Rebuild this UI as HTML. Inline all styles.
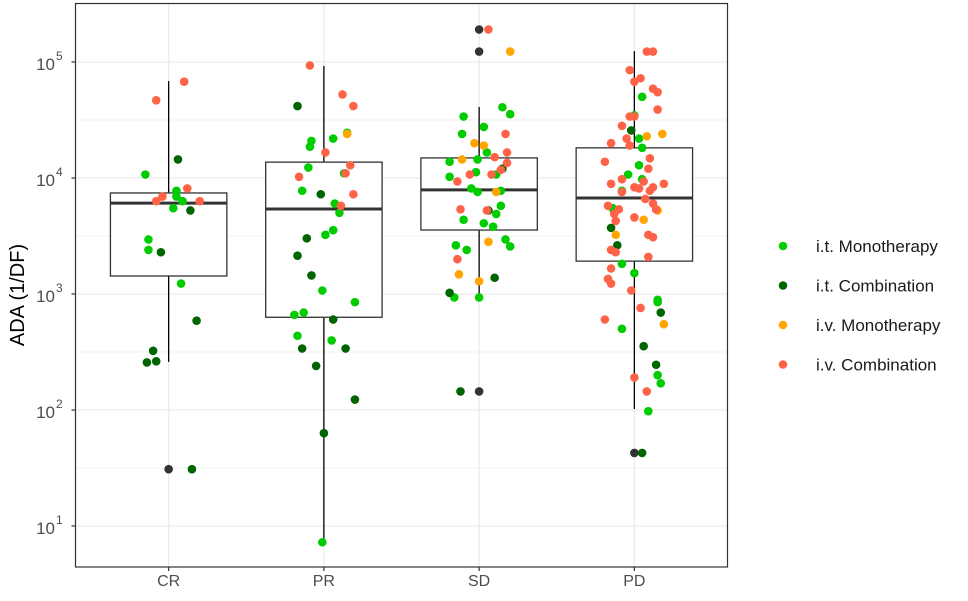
<!DOCTYPE html>
<html><head><meta charset="utf-8"><style>
html,body{margin:0;padding:0;background:#fff;}
svg{display:block;font-family:"Liberation Sans",Arial,sans-serif;}
</style></head><body>
<svg id="chart" width="968" height="601" viewBox="0 0 968 601" xmlns="http://www.w3.org/2000/svg">
<rect x="0" y="0" width="968" height="601" fill="#fff"/>
<g id="grid"></g>
<g id="boxes"></g>
<g id="points"></g>
<rect x="75.5" y="3.5" width="652" height="563.5" fill="none" stroke="#333" stroke-width="1.2"/>
<g id="axes"></g>
<text transform="translate(24,295) rotate(-90)" text-anchor="middle" font-size="20" fill="#000">ADA (1/DF)</text>
<g id="legend"></g>
</svg>
<script>
const categories = ["CR","PR","SD","PD"];
const yTickExps = [1,2,3,4,5];
// box stats: [lowerWhisker, Q1, median, Q3, upperWhisker]
const boxCR = [260, 1430, 6080, 7430, 68500];
const boxPR = [7.3, 630, 5400, 13700, 92500];
const boxSD = [925, 3560, 7900, 14900, 41000];
const boxPD = [102, 1920, 6730, 18200, 124000];
const boxStats = [boxCR, boxPR, boxSD, boxPD];
// outliers: [categoryIndex, log10 value]
const outliers = [[0,1.49],[2,5.28],[2,5.09],[2,2.16],[3,1.63]];
const groupNames = ["i.t. Monotherapy","i.t. Combination","i.v. Monotherapy","i.v. Combination"];
const groupColors = ["#00CC00","#006400","#FFA500","#FF6347"];
// points: [categoryIndex, jitter (category units), log10 ADA]
const itMono = [
[0,-.15,4.03],[0,.05,3.89],[0,.05,3.84],[0,.09,3.80],[0,.03,3.74],[0,-.13,3.47],[0,-.13,3.38],[0,.08,3.09],
[1,.15,4.39],[1,-.08,4.32],[1,-.09,4.27],[1,.06,4.34],[1,.13,4.04],[1,-.10,4.09],[1,-.14,3.89],[1,.07,3.78],[1,.10,3.70],[1,.06,3.55],[1,.01,3.51],[1,-.01,3.03],[1,.20,2.93],[1,-.19,2.82],[1,-.13,2.84],[1,-.17,2.64],[1,.05,2.60],[1,-.01,0.86],
[2,.15,4.61],[2,.20,4.55],[2,-.10,4.53],[2,.03,4.44],[2,-.11,4.38],[2,.05,4.22],[2,-.19,4.14],[2,-.01,4.16],[2,-.02,4.05],[2,.11,4.03],[2,-.19,4.01],[2,-.05,3.91],[2,-.01,3.88],[2,.14,3.89],[2,.14,3.76],[2,.11,3.69],[2,-.10,3.64],[2,.03,3.61],[2,.09,3.58],[2,.17,3.47],[2,.20,3.41],[2,-.15,3.42],[2,-.08,3.38],[2,-.16,2.97],[2,0,2.97],
[3,.05,4.70],[3,0,4.54],[3,.03,4.34],[3,.05,4.26],[3,.03,4.11],[3,-.04,4.03],[3,.05,3.99],[3,-.08,3.89],[3,-.14,3.74],[3,-.08,3.26],[3,0,3.18],[3,.15,2.95],[3,.15,2.93],[3,-.08,2.70],[3,.15,2.30],[3,.17,2.23],[3,.09,1.99]
];
const itComb = [
[0,.06,4.16],[0,.14,3.72],[0,-.05,3.36],[0,.18,2.77],[0,-.10,2.51],[0,-.14,2.41],[0,-.08,2.42],[0,.15,1.49],
[1,-.17,4.62],[1,-.02,3.86],[1,-.11,3.48],[1,-.17,3.33],[1,-.08,3.16],[1,.06,2.78],[1,-.14,2.53],[1,.14,2.53],[1,-.05,2.38],[1,.20,2.09],[1,0,1.80],
[2,.15,4.08],[2,.06,3.72],[2,.10,3.14],[2,-.19,3.01],[2,-.12,2.16],
[3,-.02,4.41],[3,-.15,3.57],[3,-.11,3.42],[3,.17,2.84],[3,.06,2.55],[3,.14,2.39],[3,.05,1.63]
];
const ivMono = [
[1,.15,4.38],
[2,.20,5.09],[2,-.03,4.30],[2,.03,4.28],[2,-.11,4.16],[2,.11,3.88],[2,.06,3.45],[2,-.13,3.17],[2,0,3.11],
[3,.08,4.36],[3,.18,4.38],[3,.15,3.72],[3,.06,3.64],[3,-.12,3.51],[3,.19,2.74]
];
const ivComb = [
[0,.10,4.83],[0,-.08,4.67],[0,.12,3.91],[0,-.04,3.84],[0,-.08,3.80],[0,.20,3.80],
[1,-.09,4.97],[1,.12,4.72],[1,.19,4.62],[1,.01,4.22],[1,.17,4.11],[1,.14,4.04],[1,-.16,4.01],[1,.19,3.86],[1,.11,3.76],
[2,.06,5.28],[2,.17,4.38],[2,.18,4.22],[2,.10,4.18],[2,.18,4.13],[2,.14,4.07],[2,-.06,4.03],[2,.08,4.03],[2,-.14,3.97],[2,-.12,3.73],[2,.05,3.72],[2,-.14,3.30],
[3,.08,5.09],[3,.12,5.09],[3,-.03,4.93],[3,0,4.83],[3,.04,4.86],[3,.12,4.77],[3,.15,4.74],[3,.15,4.59],[3,-.03,4.53],[3,0,4.53],[3,-.08,4.45],[3,-.05,4.34],[3,-.15,4.30],[3,-.03,4.28],[3,.10,4.17],[3,-.19,4.14],[3,.09,4.08],[3,-.08,3.99],[3,-.15,3.95],[3,.06,3.97],[3,0,3.92],[3,.03,3.91],[3,.12,3.92],[3,.19,3.95],[3,.10,3.89],[3,-.08,3.88],[3,.07,3.82],[3,.12,3.78],[3,-.17,3.76],[3,-.10,3.73],[3,.14,3.73],[3,-.13,3.69],[3,-.12,3.63],[3,0,3.66],[3,.09,3.51],[3,.12,3.49],[3,-.15,3.38],[3,-.12,3.36],[3,.09,3.32],[3,-.15,3.22],[3,-.17,3.13],[3,-.15,3.09],[3,-.02,3.03],[3,.04,2.88],[3,-.19,2.78],[3,0,2.28],[3,.08,2.16]
];
const groups = [itMono, itComb, ivMono, ivComb];

const NS = "http://www.w3.org/2000/svg";
const PL = 75.5, PR = 727.5, PT = 3.5, PB = 567;
const band = (PR - PL) / (categories.length + 0.2);
function xScale(i){ return PL + band*0.6 + i*band; }
function yLog(L){ return 526 - 116*(L - 1); }
function yScale(v){ return yLog(Math.log10(v)); }
function mk(tag, attrs, parent){
  const e = document.createElementNS(NS, tag);
  for (const k in attrs) e.setAttribute(k, attrs[k]);
  parent.appendChild(e); return e;
}
const grid = document.getElementById('grid');
const axes = document.getElementById('axes');
// grid
for (let L = 0.5; L <= 5.5; L += 0.5) {
  const y = yLog(L);
  if (y < PT || y > PB) continue;
  const g = mk('line', {x1:PL, x2:PR, y1:y, y2:y, stroke:'#ebebeb', 'stroke-width': (L%1===0)?1.3:0.8}, grid);
  
  
}
categories.forEach((c,i)=>{
  const x = xScale(i);
  const g = mk('line', {x1:x, x2:x, y1:PT, y2:PB, stroke:'#ebebeb', 'stroke-width':1.3}, grid);
  
  
  const t = mk('line', {x1:x, x2:x, y1:PB, y2:PB+4, stroke:'#333', 'stroke-width':1.2}, axes);
  
  
  const lab = mk('text', {x:x, y:PB+19, 'text-anchor':'middle', 'font-size':16, fill:'#4d4d4d'}, axes);
  lab.textContent = c;
  
  
});
yTickExps.forEach(e=>{
  const y = yLog(e);
  const t = mk('line', {x1:PL-4, x2:PL, y1:y, y2:y, stroke:'#333', 'stroke-width':1.2}, axes);
  
  
  const lab = mk('text', {x:55, y:y+8, 'text-anchor':'end', 'font-size':17, fill:'#4d4d4d'}, axes);
  lab.textContent = '10';
  
  
  const sup = mk('text', {x:56, y:y-2, 'text-anchor':'start', 'font-size':12, fill:'#4d4d4d'}, axes);
  sup.textContent = String(e);
  
  
});
// boxes
const boxes = document.getElementById('boxes');
const hw = band*0.375;
boxStats.forEach((s,i)=>{
  const x = xScale(i);
  const g = mk('g', {}, boxes);
  
  
  mk('line', {x1:x,x2:x,y1:yScale(s[0]),y2:yScale(s[1]),stroke:'#000','stroke-width':1.3}, g);
  mk('line', {x1:x,x2:x,y1:yScale(s[3]),y2:yScale(s[4]),stroke:'#000','stroke-width':1.3}, g);
  mk('rect', {x:x-hw,y:yScale(s[3]),width:2*hw,height:yScale(s[1])-yScale(s[3]),fill:'#fff',stroke:'#333','stroke-width':1.3}, g);
  mk('line', {x1:x-hw,x2:x+hw,y1:yScale(s[2]),y2:yScale(s[2]),stroke:'#333','stroke-width':3}, g);
});
const pts = document.getElementById('points');
outliers.forEach(o=>{
  const c = mk('circle', {cx:xScale(o[0]), cy:yLog(o[1]), r:4.3, fill:'#333'}, pts);
  
  
});
groups.forEach((arr,gi)=>{
  arr.forEach(p=>{
    const c = mk('circle', {cx:xScale(p[0]) + p[1]*band, cy:yLog(p[2]), r:4.3, fill:groupColors[gi]}, pts);
    
    
  });
});
// legend
const leg = document.getElementById('legend');
groupNames.forEach((n,i)=>{
  const y = 246 + i*39.5;
  const g = mk('g', {}, leg);
  
  
  mk('circle', {cx:783, cy:y, r:4.3, fill:groupColors[i]}, g);
  const t = mk('text', {x:816, y:y+6, 'font-size':17, fill:'#1a1a1a'}, g);
  t.textContent = n;
});
</script>
</body></html>
